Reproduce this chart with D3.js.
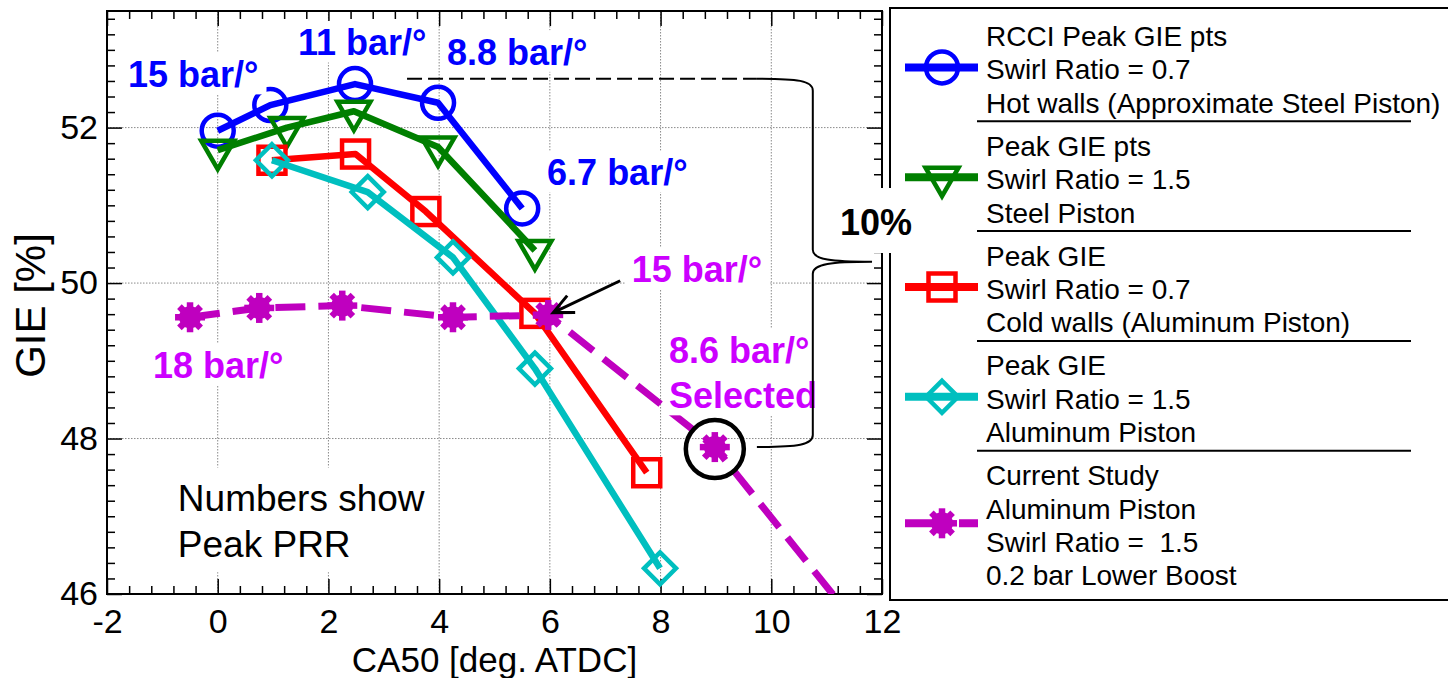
<!DOCTYPE html>
<html>
<head>
<meta charset="utf-8">
<title>GIE vs CA50</title>
<script src="https://cdn.jsdelivr.net/npm/d3@7/dist/d3.min.js"></script>
<style>
  body { margin: 0; background: #fff; }
  svg { display: block; }
  text { font-family: "Liberation Sans", Arial, Helvetica, sans-serif; }
</style>
</head>
<body>
<svg id="chart" width="1448" height="678"></svg>
<script>
// data
const ca50Rcci = [0, 0.95, 2.48, 3.98, 5.5];
const gieRcci = [51.96, 52.29, 52.56, 52.32, 50.96];

const ca50Steel = [0, 1.25, 2.46, 3.98, 5.73];
const gieSteel = [51.71, 52.0, 52.21, 51.75, 50.42];

const ca50AlSr07 = [0.98, 2.49, 3.76, 5.73, 7.75];
const gieAlSr07 = [51.58, 51.66, 50.92, 49.61, 47.56];

const ca50AlSr15 = [0.98, 2.71, 4.25, 5.73, 7.99];
const gieAlSr15 = [51.58, 51.17, 50.33, 48.9, 46.33];

const ca50Current = [-0.5, 0.75, 2.25, 4.25, 5.97, 8.98, 11.5];
const gieCurrent = [49.56, 49.68, 49.71, 49.56, 49.59, 47.89, 45.65];

const xTickLabels = [-2, 0, 2, 4, 6, 8, 10, 12];
const yTickLabels = [46, 48, 50, 52];

const legendLabels = [
  ['RCCI Peak GIE pts', 'Swirl Ratio = 0.7', 'Hot walls (Approximate Steel Piston)'],
  ['Peak GIE pts', 'Swirl Ratio = 1.5', 'Steel Piston'],
  ['Peak GIE', 'Swirl Ratio = 0.7', 'Cold walls (Aluminum Piston)'],
  ['Peak GIE', 'Swirl Ratio = 1.5', 'Aluminum Piston'],
  ['Current Study', 'Aluminum Piston', 'Swirl Ratio =  1.5', '0.2 bar Lower Boost']
];

const BLUE = '#0000ff', GREEN = '#007f00', RED = '#ff0000', CYAN = '#00bfbf';
const MAG = '#bf00bf', MAG_TXT = '#cc00ff';

const series = [
  { xs: ca50Rcci, ys: gieRcci, color: BLUE, marker: 'circle' },
  { xs: ca50Steel, ys: gieSteel, color: GREEN, marker: 'triangle' },
  { xs: ca50AlSr07, ys: gieAlSr07, color: RED, marker: 'square' },
  { xs: ca50AlSr15, ys: gieAlSr15, color: CYAN, marker: 'diamond' },
  { xs: ca50Current, ys: gieCurrent, color: MAG, marker: 'star', dash: '30,13' }
];

const svg = d3.select('#chart');

const x = d3.scaleLinear().domain([-2, 12]).range([107, 882]);
const y = d3.scaleLinear().domain([46, 53.5]).range([594, 11]);
const [x0, x1] = x.range();
const [y0, y1] = y.range();

// grid
const grid = svg.append('g')
  .attr('stroke', '#8a8a8a')
  .attr('stroke-width', 1)
  .attr('stroke-dasharray', '1.5,1.5');
grid.selectAll('.gx').data(xTickLabels.slice(1, -1)).join('line')
  .attr('x1', d => x(d)).attr('x2', d => x(d))
  .attr('y1', y1).attr('y2', y0);
grid.selectAll('.gy').data(yTickLabels.slice(1)).join('line')
  .attr('y1', d => y(d)).attr('y2', d => y(d))
  .attr('x1', x0).attr('x2', x1);

// ticks (all inward)
const xMinor = d3.range(0, 36).map(k => -2 + k * 0.4)
  .filter(v => Math.abs(v / 2 - Math.round(v / 2)) > 1e-6);
const yMinor = d3.range(0, 38).map(k => 46 + k * 0.2)
  .filter(v => Math.abs(v / 2 - Math.round(v / 2)) > 1e-6);

function ticks(axis, vals, size, transform, fmt, pad) {
  const g = svg.append('g')
    .attr('transform', transform)
    .call(axis.tickValues(vals).tickSizeInner(-size).tickSizeOuter(0)
      .tickPadding(pad || 3).tickFormat(fmt || (() => '')));
  g.select('.domain').remove();
  g.selectAll('line').attr('stroke-width', 1.5);
  g.attr('font-size', 34);
  return g;
}

ticks(d3.axisBottom(x), xTickLabels, 15, `translate(0,${y0})`, d => String(d), 15);
ticks(d3.axisBottom(x), xMinor, 8, `translate(0,${y0})`);
ticks(d3.axisTop(x), xTickLabels, 15, `translate(0,${y1})`);
ticks(d3.axisTop(x), xMinor, 8, `translate(0,${y1})`);
ticks(d3.axisLeft(y), yTickLabels, 15, `translate(${x0},0)`, d => String(d), 9);
ticks(d3.axisLeft(y), yMinor, 8, `translate(${x0},0)`);
ticks(d3.axisRight(y), yTickLabels, 15, `translate(${x1},0)`);
ticks(d3.axisRight(y), yMinor, 8, `translate(${x1},0)`);

svg.append('rect')
  .attr('x', x0).attr('y', y1)
  .attr('width', x1 - x0).attr('height', y0 - y1)
  .attr('fill', 'none').attr('stroke', '#000').attr('stroke-width', 2);

// axis titles
svg.append('text')
  .attr('x', (x0 + x1) / 2).attr('y', 672)
  .attr('text-anchor', 'middle').attr('font-size', 35)
  .text('CA50 [deg. ATDC]');
svg.append('text')
  .attr('transform', `translate(45,${(y0 + y1) / 2 + 3}) rotate(-90)`)
  .attr('text-anchor', 'middle').attr('font-size', 42)
  .text('GIE [%]');

// markers
function drawMarker(g, type, color) {
  if (type === 'circle') {
    g.append('circle').attr('r', 16)
      .attr('fill', 'none').attr('stroke', color).attr('stroke-width', 4.5);
  } else if (type === 'triangle') {
    g.append('path').attr('d', 'M-16.5,-9.5L16.5,-9.5L0,19Z')
      .attr('fill', 'none').attr('stroke', color).attr('stroke-width', 4.5)
      .attr('stroke-linejoin', 'miter');
  } else if (type === 'square') {
    g.append('rect').attr('x', -13.5).attr('y', -13.5)
      .attr('width', 27).attr('height', 27)
      .attr('fill', 'none').attr('stroke', color).attr('stroke-width', 4.5);
  } else if (type === 'diamond') {
    g.append('path').attr('d', 'M0,-16L16,0L0,16L-16,0Z')
      .attr('fill', 'none').attr('stroke', color).attr('stroke-width', 4.5);
  } else if (type === 'star') {
    [0, 45, 90, 135].forEach(a => {
      g.append('line')
        .attr('x1', -15).attr('x2', 15)
        .attr('transform', `rotate(${a})`)
        .attr('stroke', color).attr('stroke-width', 6.5);
    });
    g.append('circle').attr('r', 11).attr('fill', color);
  }
}

// series
svg.append('clipPath').attr('id', 'plotClip')
  .append('rect').attr('x', x0).attr('y', y1)
  .attr('width', x1 - x0).attr('height', y0 - y1);

const plot = svg.append('g').attr('clip-path', 'url(#plotClip)');
const line = d3.line().x(d => x(d[0])).y(d => y(d[1]));

series.forEach(s => {
  const pts = d3.zip(s.xs, s.ys);
  plot.append('path')
    .attr('d', line(pts))
    .attr('fill', 'none')
    .attr('stroke', s.color)
    .attr('stroke-width', s.dash ? 7 : 6.5)
    .attr('stroke-dasharray', s.dash || null)
    .attr('stroke-linejoin', 'round');
  plot.selectAll(null).data(pts).join('g')
    .attr('transform', d => `translate(${x(d[0])},${y(d[1])})`)
    .each(function () { drawMarker(d3.select(this), s.marker, s.color); });
});

// selected point ring
const selIdx = 5;
svg.append('circle')
  .attr('cx', x(ca50Current[selIdx])).attr('cy', y(gieCurrent[selIdx]) + 2)
  .attr('r', 29)
  .attr('fill', 'none').attr('stroke', '#000').attr('stroke-width', 4.5);

// PRR annotations, on white boxes
const notes = [
  { lines: ['15 bar/°'], x: -1.62, y: 52.52, color: BLUE, bold: true },
  { lines: ['11 bar/°'], x: 1.45, y: 52.93, color: BLUE, bold: true },
  { lines: ['8.8 bar/°'], x: 4.14, y: 52.81, color: BLUE, bold: true },
  { lines: ['6.7 bar/°'], x: 5.95, y: 51.26, color: BLUE, bold: true },
  { lines: ['15 bar/°'], x: 7.48, y: 50.01, color: MAG_TXT, bold: true },
  { lines: ['18 bar/°'], x: -1.17, y: 48.78, color: MAG_TXT, bold: true },
  { lines: ['8.6 bar/°', 'Selected'], x: 8.15, y: 48.97, color: MAG_TXT, bold: true, gap: 45 },
  { lines: ['Numbers show', 'Peak PRR'], x: -0.72, y: 47.07, color: '#000', bold: false, gap: 46, pad: 8, fs: 37 }
];

const noteLayer = svg.append('g');
notes.forEach(n => {
  const fs = n.fs || 36;
  const g = noteLayer.append('g');
  const box = g.append('rect').attr('fill', '#fff');
  const t = g.append('text')
    .attr('font-size', fs)
    .attr('font-weight', n.bold ? 'bold' : 'normal')
    .attr('fill', n.color);
  n.lines.forEach((l, i) => {
    t.append('tspan')
      .attr('x', x(n.x))
      .attr('y', y(n.y) + i * (n.gap || 0))
      .text(l);
  });
  const bb = t.node().getBBox();
  const pad = n.pad || 0;
  const top = y(n.y) - 0.9 * fs - 2 - pad;
  const bottom = y(n.y) + (n.lines.length - 1) * (n.gap || 0) + 0.2 * fs + pad;
  box.attr('x', bb.x - 6).attr('y', top)
    .attr('width', bb.width + 14).attr('height', bottom - top);
});

// arrow to the 15 bar/° current-study point
const tail = [x(7.27), y(50.03)];
const tip = [x(6.06), y(49.62)];
const ang = Math.atan2(tail[1] - tip[1], tail[0] - tip[0]);
const arm = 22, spread = 25 * Math.PI / 180;
svg.append('path')
  .attr('d', `M${tail[0]},${tail[1]}L${tip[0]},${tip[1]}` +
    `M${tip[0] + arm * Math.cos(ang - spread)},${tip[1] + arm * Math.sin(ang - spread)}` +
    `L${tip[0]},${tip[1]}` +
    `L${tip[0] + arm * Math.cos(ang + spread)},${tip[1] + arm * Math.sin(ang + spread)}`)
  .attr('fill', 'none').attr('stroke', '#000').attr('stroke-width', 3);

// 10% bracket between best RCCI level and selected point
const refHigh = 52.63, refLow = gieCurrent[selIdx];
const bx0 = x(9.74), bxs = x(10.75), bxc = x(11.82);
const byt = y(refHigh), byb = y(refLow), bym = (byt + byb) / 2 - 1;

svg.append('line')
  .attr('x1', x(3.42)).attr('x2', bx0)
  .attr('y1', byt).attr('y2', byt)
  .attr('stroke', '#000').attr('stroke-width', 2)
  .attr('stroke-dasharray', '15,6');

svg.append('path')
  .attr('d', `M${bx0},${byt}` +
    `C${bxs - 15},${byt} ${bxs},${byt + 2} ${bxs},${byt + 12}` +
    `L${bxs},${bym - 12}` +
    `C${bxs},${bym - 2} ${bxc - 40},${bym} ${bxc},${bym}` +
    `C${bxc - 40},${bym} ${bxs},${bym + 2} ${bxs},${bym + 12}` +
    `L${bxs},${byb - 12}` +
    `C${bxs},${byb - 2} ${bxs - 15},${byb} ${bx0},${byb}`)
  .attr('fill', 'none').attr('stroke', '#000').attr('stroke-width', 2);

// legend
const legend = svg.append('g');
legend.append('rect')
  .attr('x', 890).attr('y', 8)
  .attr('width', 600).attr('height', 592)
  .attr('fill', '#fff').attr('stroke', '#000').attr('stroke-width', 2);

const lineH = 33.4;
let base = 46;
series.forEach((s, i) => {
  const labels = legendLabels[i];
  const g = legend.append('g');
  labels.forEach((l, k) => {
    g.append('text')
      .attr('x', 986).attr('y', base + k * lineH)
      .attr('font-size', 28)
      .style('white-space', 'pre')
      .text(l);
  });
  const last = base + (labels.length - 1) * lineH;
  const my = (base + last) / 2 - 12;
  g.append('line')
    .attr('x1', 905).attr('x2', 978)
    .attr('y1', my).attr('y2', my)
    .attr('stroke', s.color).attr('stroke-width', 8)
    .attr('stroke-dasharray', s.dash ? '34,20' : null);
  drawMarker(g.append('g').attr('transform', `translate(942,${my})`), s.marker, s.color);
  if (i < series.length - 1) {
    g.append('line')
      .attr('x1', 977).attr('x2', 1411)
      .attr('y1', last + 8.5).attr('y2', last + 8.5)
      .attr('stroke', '#000').attr('stroke-width', 2);
  }
  base = last + 43;
});

// "10%" label sits over axis and legend edge
svg.append('rect')
  .attr('x', 829).attr('y', 188)
  .attr('width', 76).attr('height', 65)
  .attr('fill', '#fff');
svg.append('text')
  .attr('x', 876).attr('y', 235)
  .attr('text-anchor', 'middle')
  .attr('font-size', 36).attr('font-weight', 'bold')
  .text('10%');
</script>
</body>
</html>
